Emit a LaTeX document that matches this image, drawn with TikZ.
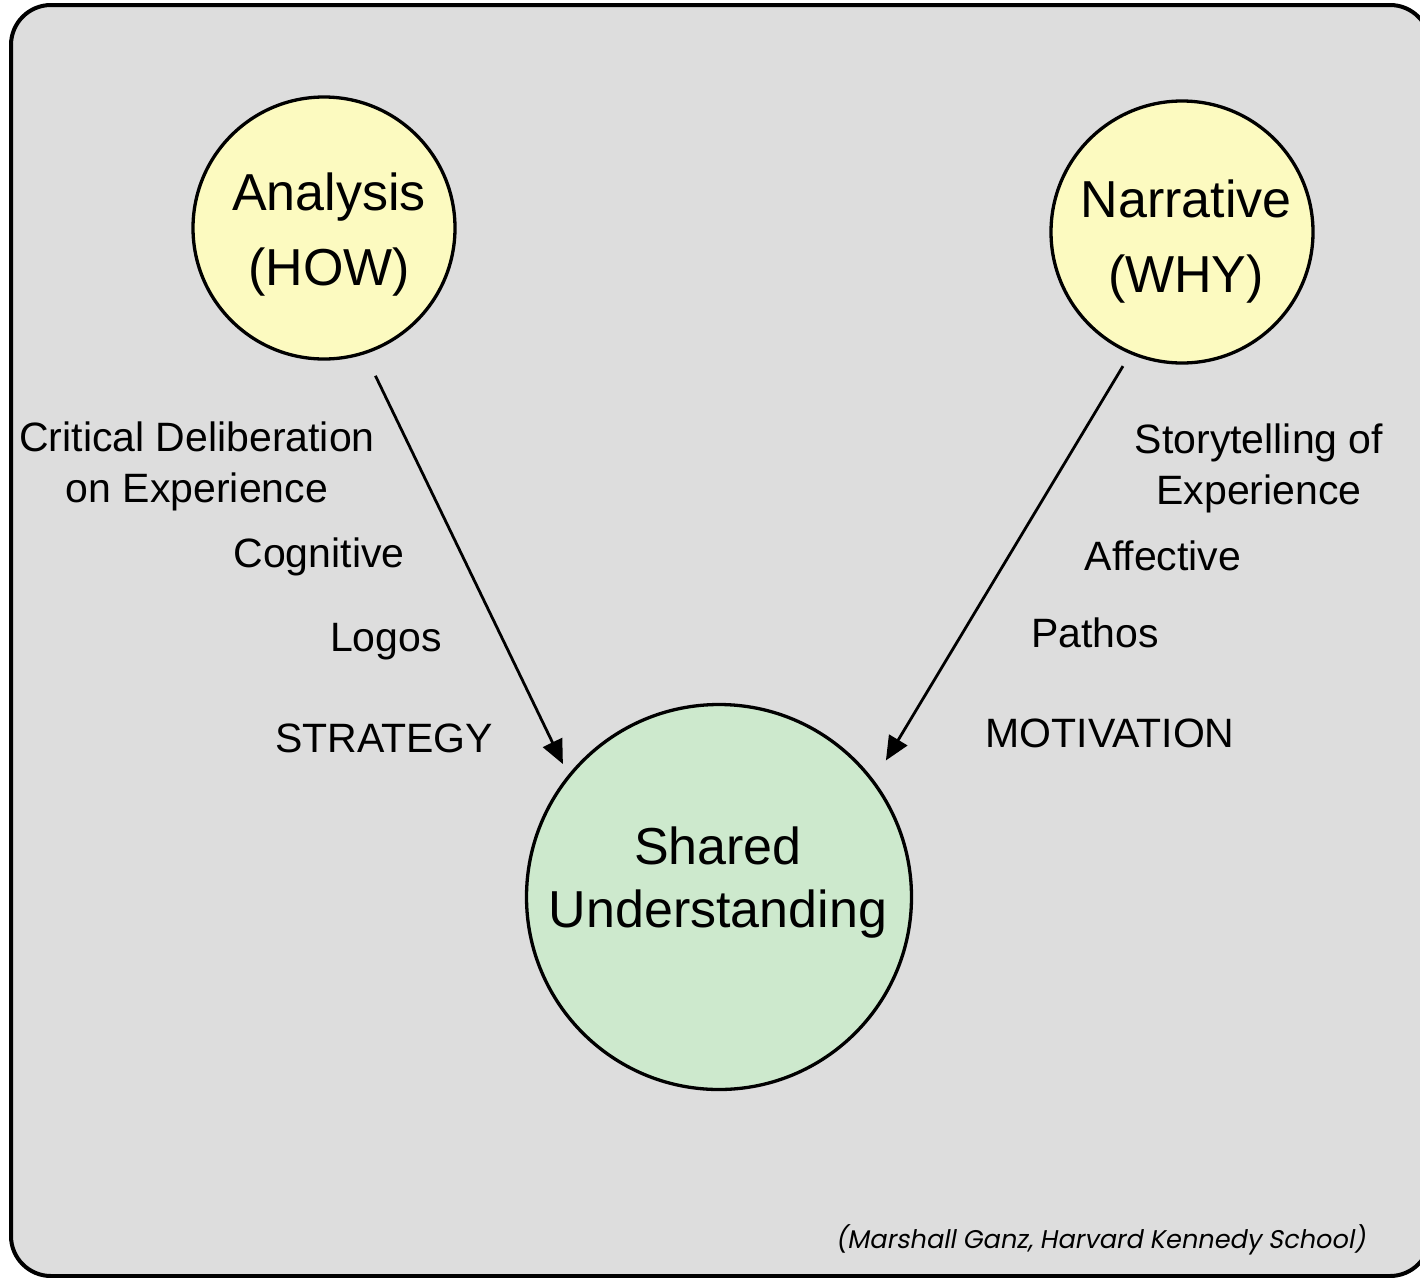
\documentclass[tikz,border=0pt]{standalone}
\usepackage{fontspec}
\setmainfont{Liberation Sans}
\newfontfamily\citefont[FakeSlant=0.18]{Poppins}
\usepackage{xcolor}
\usepackage{tikz}
\usetikzlibrary{arrows.meta}
\definecolor{panel}{RGB}{221,221,221}
\definecolor{howwhy}{RGB}{252,250,192}
\definecolor{common}{RGB}{205,233,205}

\begin{document}
\begin{tikzpicture}[x=1pt, y=-1pt,
  bigcircle/.style={circle, draw, line width=3.3pt, inner sep=0pt},
  circletext/.style={anchor=base, align=center, font=\fontsize{52}{75}\selectfont},
  sidelabel/.style={anchor=base, align=center, font=\fontsize{41}{51}\selectfont},
  flow/.style={-{Triangle[length=24pt,width=21pt]}, line width=2.8pt}]

  \useasboundingbox (0,0) rectangle (1420,1277);
  \clip (0,0) rectangle (1420,1277);

  % ---------- Panel ----------
  \draw[fill=panel, line width=4pt, rounded corners=40pt] (11,5) rectangle (1430,1276);

  % ---------- Circles ----------
  \node[bigcircle, fill=howwhy, minimum size=262pt] at (324,228) (how) {};
  \node[bigcircle, fill=howwhy, minimum size=262pt] at (1182,232) (why) {};
  \node[bigcircle, fill=common, minimum size=385pt] at (719,897) (shared) {};

  % (base anchor sits on the last line)
  \node[circletext] at (329,285) (howtext) {Analysis\\(HOW)};
  \node[circletext] at (1186,292) (whytext) {Narrative\\(WHY)};
  \node[circletext, font=\fontsize{52}{63}\selectfont] at (718,927) (sharedtext) {Shared\\Understanding};

  % ---------- Left labels ----------
  \node[sidelabel] at (197,502) (deliberation) {Critical Deliberation\\on Experience};
  \node[sidelabel] at (319,567) (cognitive) {Cognitive};
  \node[sidelabel] at (386,651) (logos) {Logos};
  \node[sidelabel] at (384,752) (strategy) {STRATEGY};

  % ---------- Right labels ----------
  \node[sidelabel] at (1259,504) (storytelling) {Storytelling of\\Experience};
  \node[sidelabel] at (1163,570) (affective) {Affective};
  \node[sidelabel] at (1095,647) (pathos) {Pathos};
  \node[sidelabel] at (1110,747) (motivation) {MOTIVATION};

  % ---------- Arrows ----------
  \draw[flow, shorten <=24pt, shorten >=12pt] (how.-72.5) -- (shared.141.5);
  \draw[flow, shorten <=14pt, shorten >=23pt] (why.-113) -- (shared.37.5);

  % ---------- Source ----------
  \node[anchor=base west, font=\citefont\fontsize{25.6}{30}\selectfont] at (832,1248) (source)
    {(Marshall Ganz, Harvard Kennedy School)};
\end{tikzpicture}
\end{document}
